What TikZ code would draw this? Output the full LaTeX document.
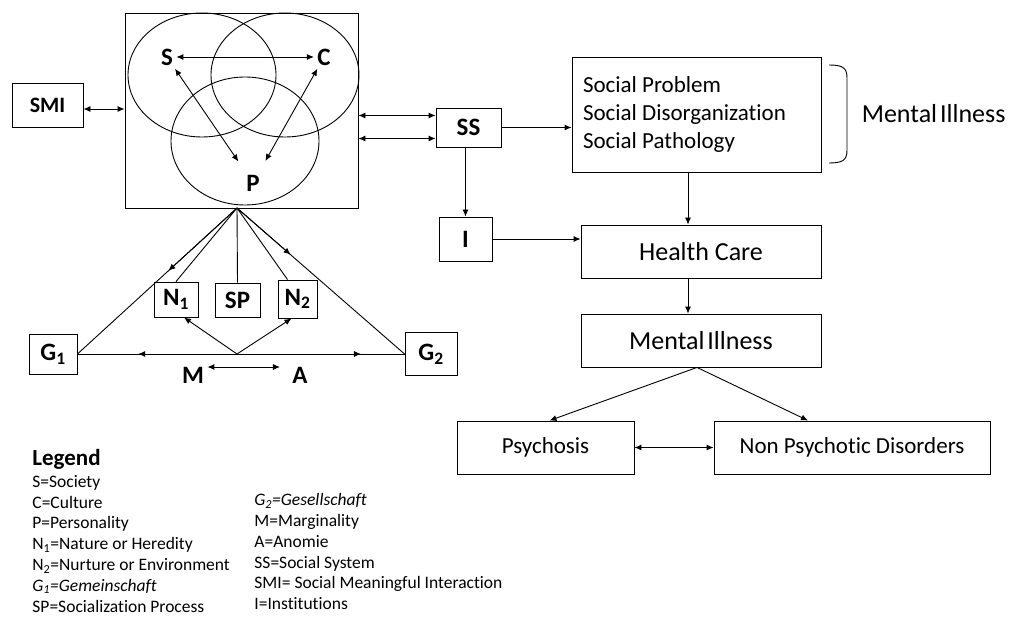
\documentclass[tikz,border=0pt]{standalone}
\usepackage{fontspec}
\setmainfont{Carlito}[Ligatures=CommonOff]
\usetikzlibrary{positioning,calc}
\usetikzlibrary{arrows.meta}

\begin{document}
\begin{tikzpicture}[x=1pt, y=-1pt, line width=0.9pt,
  >={Latex[length=7pt,width=6pt]},
  box/.style={draw, inner sep=0pt},
  lbl/.style={font=\bfseries\fontsize{25}{29}\selectfont, inner sep=3pt},
  txt/.style={font=\fontsize{23}{28}\selectfont},
  big/.style={font=\fontsize{26}{31}\selectfont},
  legendtxt/.style={anchor=north west, inner sep=0pt, align=flush left, font=\fontsize{17.5}{20.8}\selectfont}]
  % \draw[step=50, gray!20!white, very thin] (0,0) grid (1016,617);
  \useasboundingbox (0,0) rectangle (1016,617);

  \node[box, minimum width=233pt, minimum height=195pt] at (241.5, 110.5) (field) {};
  \draw (202,75) ellipse [x radius=74pt, y radius=62pt];
  \draw (285,75) ellipse [x radius=74pt, y radius=62pt];
  \draw (245,141) ellipse [x radius=74pt, y radius=64pt];

  \node[lbl] at (167, 57) (s) {S};
  \node[lbl] at (324, 57) (c) {C};
  \node[lbl] at (253, 183) (p) {P};
  \draw [<->] (s) -- (c);
  \draw [<->, shorten >=12pt] (s) -- (p);
  \draw [<->, shorten >=12pt] (c) -- (p);

  \node[box, minimum width=71pt, minimum height=44pt, font=\bfseries\fontsize{22}{26}\selectfont] at (47.5, 105) (smi) {SMI};
  \draw [<->] ([yshift=-4pt]smi.east) -- ([yshift=-4pt]smi.east -| field.west);

  % lower triangle
  \node[box, lbl, minimum width=44pt, minimum height=35pt] at (176, 299.5) (n1) {N\textsubscript{1}};
  \node[box, lbl, minimum width=45pt, minimum height=34pt] at (237.5, 300) (sp) {SP};
  \node[box, lbl, minimum width=39pt, minimum height=38pt] at (297.5, 299) (n2) {N\textsubscript{2}};
  \node[box, lbl, minimum width=48pt, minimum height=40pt] at (53, 354) (g1) {G\textsubscript{1}};
  \node[box, lbl, minimum width=52pt, minimum height=43pt] at (431, 354) (g2) {G\textsubscript{2}};

  \coordinate (apex) at (237, 208);
  \coordinate (mid) at (237, 354);

  \draw (apex) -- (n1.north);
  \draw (apex) -- (sp.north);
  \draw (apex) -- ([xshift=-10pt]n2.north);
  \draw (apex) -- (g1.east);
  \draw [->] (apex) -- ($(apex)!0.43!(g1.east)$);
  \draw (apex) -- (g2.west);
  \draw [->] (apex) -- ($(apex)!0.32!(g2.west)$);

  \draw (g1.east) -- (g2.west);
  \draw [->] (mid) -- ($(mid)!0.62!(g1.east)$);
  \draw [->] (mid) -- ($(mid)!0.74!(g2.west)$);
  \draw [->] (mid) -- ([xshift=8pt]n1.south);
  \draw [->] (mid) -- ([xshift=-6pt]n2.south);

  \node[lbl] at (193, 375) (m) {M};
  \node[lbl] at (300, 375) (a) {A};
  \draw [<->, shorten >=9pt] ([yshift=8pt]m.east) -- ([yshift=8pt]m.east -| a.west);

  % right chain
  \node[box, lbl, minimum width=65pt, minimum height=39pt] at (468.5, 127.5) (ss) {SS};
  \draw [<->] ([yshift=12pt]ss.west) -- ([yshift=12pt]ss.west -| field.east);
  \draw [<->] ([yshift=-11pt]ss.west) -- ([yshift=-11pt]ss.west -| field.east);

  \node[box, txt, minimum width=249pt, minimum height=115pt, text width=227pt, align=flush left, inner xsep=11pt] at (696.5, 114.5) (social) {Social Problem\\ Social Disorganization\\ Social Pathology};
  \draw [->] (ss.east) -- (ss.east -| social.west);

  \draw (829,65) .. controls (843,65) and (847,68) .. (847,78) -- (847,150) .. controls (847,160) and (843,163) .. (829,163);
  \node[big, anchor=west] at (858, 114) (illness) {Mental\kern-3pt{} Illness};

  \node[box, lbl, minimum width=53pt, minimum height=44pt] at (465.5, 239) (inst) {I};
  \draw [->] (inst.north |- ss.south) -- (inst.north);

  \node[box, big, minimum width=240pt, minimum height=53pt] at (701, 251.5) (health) {Health Care};
  \draw [->] (inst.east) -- (inst.east -| health.west);
  \draw [->] ([xshift=-13pt]health.north |- social.south) -- ([xshift=-13pt]health.north);

  \node[box, big, minimum width=240pt, minimum height=53pt] at (701, 340.5) (ill) {Mental\kern-3pt{} Illness};
  \draw [->] ([xshift=-13pt]health.south) -- ([xshift=-13pt]ill.north);

  \node[box, txt, minimum width=177pt, minimum height=53pt] at (545.5, 447.5) (psy) {Psychosis};
  \node[box, txt, minimum width=276pt, minimum height=53pt] at (852, 447.5) (nonpsy) {Non Psychotic Disorders};
  \draw [->] ([xshift=-4pt]ill.south) -- ([xshift=4pt]psy.north);
  \draw [->] ([xshift=-4pt]ill.south) -- ([xshift=-44pt]nonpsy.north);
  \draw [<->] (psy) -- (nonpsy);

  % legend
  \node[legendtxt] at (32, 449) (legend) {{\bfseries\fontsize{23}{28}\selectfont Legend}\\[1pt]
    S=Society\\ C=Culture\\ P=Personality\\ N\textsubscript{1}=Nature or Heredity\\
    N\textsubscript{2}=Nurture or Environment\\ \textit{G\textsubscript{1}=Gemeinschaft}\\ SP=Socialization Process};
  \node[legendtxt] at (254, 493) (legend2) {\textit{G\textsubscript{2}=Gesellschaft}\\ M=Marginality\\ A=Anomie\\
    SS=Social System\\ SMI= Social Meaningful Interaction\\ I=Institutions};

\end{tikzpicture}
\end{document}
